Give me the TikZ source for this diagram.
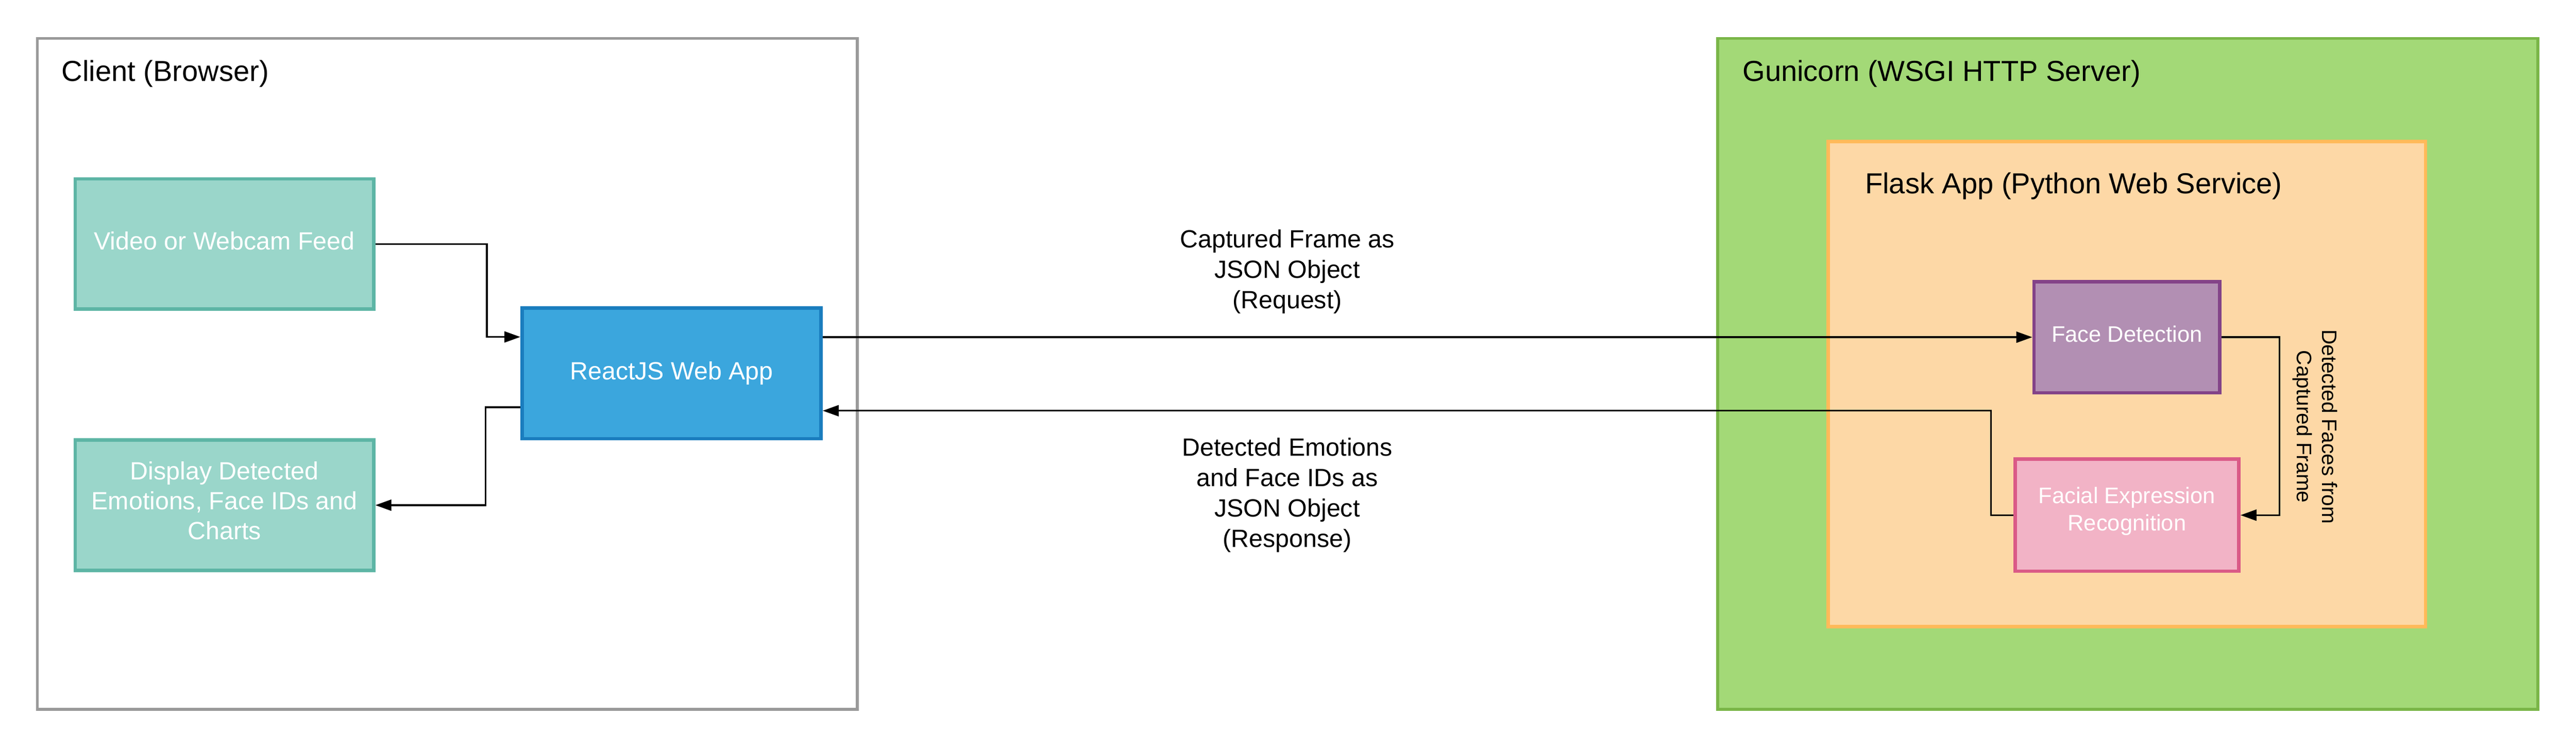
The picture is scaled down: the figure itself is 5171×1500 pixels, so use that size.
\documentclass[tikz,border=0pt]{standalone}
\usepackage{fontspec}
\setmainfont{Liberation Sans}
\usetikzlibrary{arrows.meta,calc}
\definecolor{clientline}{HTML}{9A9A9A}
\definecolor{tealfill}{HTML}{9AD6CA}
\definecolor{tealline}{HTML}{5DB5A5}
\definecolor{bluefill}{HTML}{3BA6DD}
\definecolor{blueline}{HTML}{1A7DBE}
\definecolor{greenfill}{HTML}{A3D977}
\definecolor{greenline}{HTML}{7AB648}
\definecolor{orangefill}{HTML}{FDD8A6}
\definecolor{orangeline}{HTML}{FFBA5A}
\definecolor{purplefill}{HTML}{B28FB3}
\definecolor{purpleline}{HTML}{834388}
\definecolor{pinkfill}{HTML}{F2B3C6}
\definecolor{pinkline}{HTML}{DA5A87}
\begin{document}
\begin{tikzpicture}[x=0.2pt,y=-0.2pt,
  container/.style={draw, rectangle, inner sep=0pt, line width=1.2pt},
  procbox/.style={draw, rectangle, inner sep=0pt, line width=1.4pt},
  boxtext/.style={text=white, align=center, inner sep=0pt, font=\fontsize{10}{12}\selectfont},
  smalltext/.style={boxtext, font=\fontsize{9}{11}\selectfont},
  titletext/.style={anchor=west, inner sep=0pt, font=\fontsize{11.6}{14}\selectfont},
  labeltext/.style={align=center, inner sep=0pt, font=\fontsize{10}{12.2}\selectfont},
  conn/.style={draw, line width=0.7pt, -{Triangle[length=6.4pt,width=4.4pt]}}
]
\useasboundingbox (0,0) rectangle (5171,1500);
% containers
\node[container, draw=clientline, fill=white, minimum width=329.2pt, minimum height=269.2pt] (client) at (898,750) {};
\node[container, draw=greenline, fill=greenfill, minimum width=329.2pt, minimum height=269.2pt] (gunicorn) at (4271,750) {};
\node[container, draw=orangeline, fill=orangefill, line width=1.4pt, minimum width=239.8pt, minimum height=194.6pt] (flask) at (4269.5,770.5) {};
\node[titletext] (clienttitle) at (123,148) {Client (Browser)};
\node[titletext] (guntitle) at (3497,148) {Gunicorn (WSGI HTTP Server)};
\node[titletext] (flasktitle) at (3743,373) {Flask App (Python Web Service)};
% boxes
\node[procbox, draw=tealline, fill=tealfill, minimum width=119.8pt, minimum height=52.2pt,
  label={[boxtext, yshift=1.2pt]center:Video or Webcam Feed}] (video) at (450.5,489.5) {};
\node[procbox, draw=tealline, fill=tealfill, minimum width=119.8pt, minimum height=52.2pt,
  label={[boxtext, yshift=1.9pt]center:Display Detected\\Emotions, Face IDs and\\Charts}] (display) at (450.5,1013.5) {};
\node[procbox, draw=blueline, fill=bluefill, minimum width=120pt, minimum height=52.4pt,
  label={[boxtext]center:ReactJS Web App}] (react) at (1348,749) {};
\node[procbox, draw=purpleline, fill=purplefill, minimum width=74.6pt, minimum height=44.6pt,
  label={[smalltext, yshift=1.3pt]center:Face Detection}] (fd) at (4269.5,676.5) {};
\node[procbox, draw=pinkline, fill=pinkfill, minimum width=89.8pt, minimum height=45pt,
  label={[smalltext, yshift=1.6pt]center:Facial Expression\\Recognition}] (fer) at (4269.5,1033.5) {};
% labels
\node[labeltext] (reqlabel) at (2584,545) {Captured Frame as\\JSON Object\\(Request)};
\node[labeltext] (reslabel) at (2584,993.5) {Detected Emotions\\and Face IDs as\\JSON Object\\(Response)};
\node[labeltext, rotate=-90, font=\fontsize{8.4}{10.2}\selectfont] (fdlabel) at (4647,856) {Detected Faces from\\Captured Frame};
% connectors
\draw[conn] (video.east) -- ++(224,0) |- ($(react.west)+(0,-73)$);
\draw[conn] ($(react.west)+(0,68)$) -- ++(-70,0) |- (display.east);
\draw[conn] (react.east |- fd.west) -- (fd.west);
\draw[conn] (fd.east) -- ++(116,0) |- (fer.east);
\draw[conn] (fer.west) -- ++(-45,0) |- ($(react.east)+(0,75)$);
\end{tikzpicture}
\end{document}
